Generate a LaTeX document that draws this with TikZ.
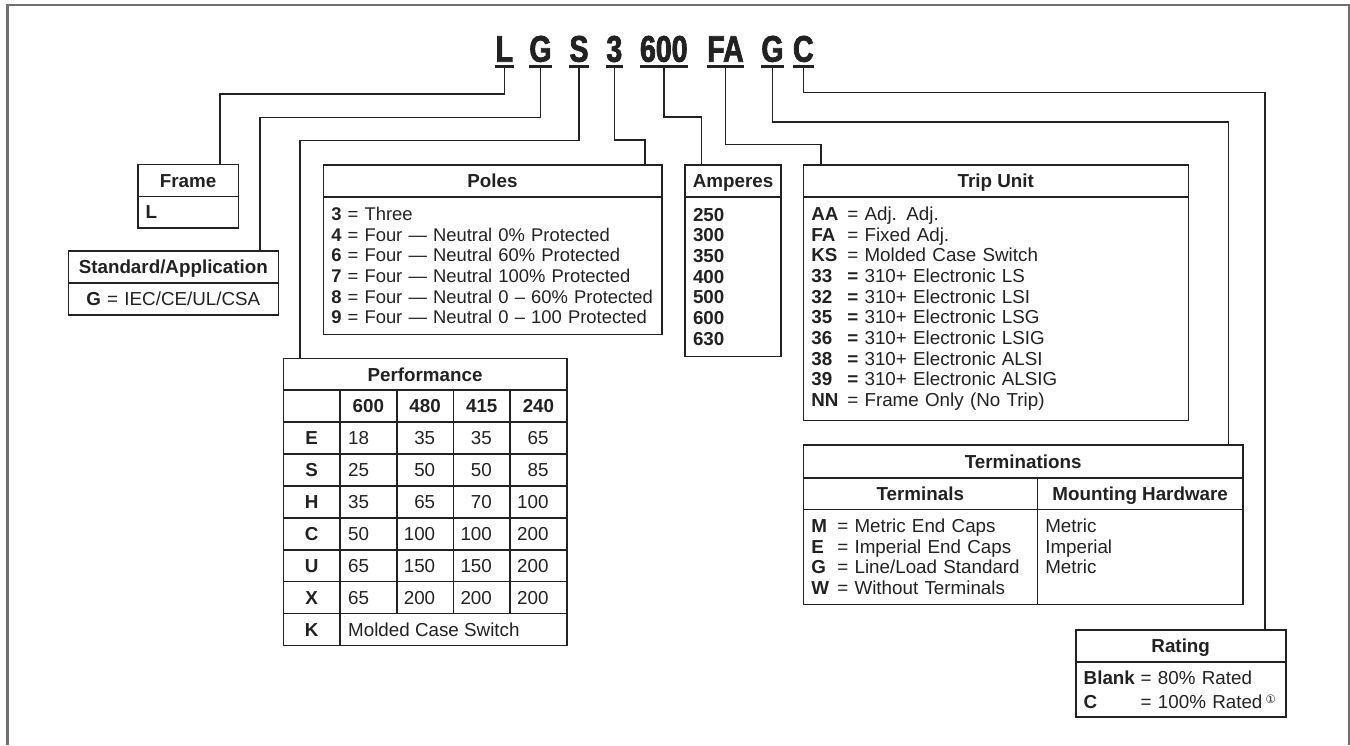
\documentclass[tikz,border=0pt]{standalone}
\usepackage{fontspec}
\setmainfont{Liberation Sans}
\newfontfamily\codefont[FakeStretch=0.77,FakeBold=2.2]{Liberation Sans Bold}
\newfontfamily\symfont{DejaVu Sans}
\usepackage{tikz}
\usetikzlibrary{positioning, calc}
\definecolor{inkcolor}{RGB}{34,34,34}
\definecolor{framecolor}{RGB}{112,112,112}
\newcommand{\tcode}[1]{\makebox[36pt][l]{\bfseries #1}}
\newcommand{\mcode}[1]{\makebox[26pt][l]{\bfseries #1}}
\newcommand{\rcode}[1]{\makebox[57pt][l]{\bfseries #1}}
\tikzset{
  codechar/.style={font=\codefont\fontsize{37}{37}\selectfont, inner xsep=0.5pt,
                   inner ysep=0pt, outer sep=0pt, text depth=5pt, anchor=base},
  codeline/.style={line width=2.8pt, draw=inkcolor},
  wire/.style={line width=1.5pt, draw=inkcolor},
  hdr/.style={draw=inkcolor, line width=1.6pt, minimum height=32pt, inner sep=0pt,
              outer sep=0pt, text height=13.5pt, text depth=0pt, font=\bfseries,
              anchor=north west},
  body/.style={draw=inkcolor, line width=1.6pt, inner xsep=8pt, inner ysep=0pt,
               outer sep=0pt, align=left, anchor=north,
               execute at begin node={\hyphenpenalty=10000\exhyphenpenalty=10000}},
  cell/.style={draw=inkcolor, line width=1.6pt, minimum width=56.7pt,
               minimum height=31.9pt, inner sep=0pt, outer sep=0pt,
               text height=13.5pt, text depth=0pt, anchor=north west},
  numl/.style={inner sep=0pt, text height=13.5pt, text depth=0pt, anchor=west},
  numr/.style={inner sep=0pt, text height=13.5pt, text depth=0pt, anchor=east},
}
\begin{document}
\fontsize{18.8}{20.7}\selectfont
\begin{tikzpicture}[x=1pt, y=-1pt, color=inkcolor]
  \useasboundingbox (0,0) rectangle (1350,745);
  % page frame
  \draw[framecolor, line width=2.5pt] (7.5,745) -- (7.5,5) -- (1349,5) -- (1349,745);

  % Catalog number
  \node[codechar] (cL)   at (504.3,61.7) {L};
  \node[codechar] (cG)   at (540.5,61.7) {G};
  \node[codechar] (cS)   at (579,61.7)   {S};
  \node[codechar] (c3)   at (614.3,61.7) {3};
  \node[codechar] (c600) at (663.8,61.7) {600};
  \node[codechar] (cFA)  at (725.5,61.7) {FA};
  \node[codechar] (cGt)  at (772.5,61.7) {G};
  \node[codechar] (cC)   at (803.3,61.7) {C};
  \foreach \n in {cL,cG,cS,c3,c600,cFA,cGt,cC}
    \draw[codeline] (\n.south west) -- (\n.south east);

  % Frame
  \node[hdr, minimum width=100.6pt] (frame) at (137.7,164.3) {Frame};
  \node[body, text width=84.6pt, minimum height=31.6pt] (frameB) at (frame.south)
    {\textbf{L}};

  % Standard/Application
  \node[hdr, minimum width=210pt] (std) at (68.3,251) {Standard/Application};
  \node[body, text width=194pt, minimum height=32pt, align=center] (stdB) at (std.south)
    {\textbf{G} = IEC/CE/UL/CSA};

  % Poles
  \node[hdr, minimum width=338.4pt] (poles) at (323.3,165) {Poles};
  \node[body, text width=322.4pt, minimum height=137.3pt,
        font=\fontsize{18.4}{20.7}\selectfont] (polesB) at (poles.south)
    {\mbox{\textbf{3} = Three}\\
     \mbox{\textbf{4} = Four — Neutral 0\% Protected}\\
     \mbox{\textbf{6} = Four — Neutral 60\% Protected}\\
     \mbox{\textbf{7} = Four — Neutral 100\% Protected}\\
     \mbox{\textbf{8} = Four — Neutral 0 – 60\% Protected}\\
     \mbox{\textbf{9} = Four — Neutral 0 – 100 Protected}};

  % Amperes
  \node[hdr, minimum width=96pt] (amps) at (685,165) {Amperes};
  \node[body, text width=80pt, minimum height=159.3pt, font=\bfseries] (ampsB) at (amps.south)
    {250\\300\\350\\400\\500\\600\\630};

  % Trip Unit
  \node[hdr, minimum width=385pt] (trip) at (803.3,165) {Trip Unit};
  \node[body, text width=369pt, minimum height=223.3pt] (tripB) at (trip.south)
    {\tcode{AA}= Adj. Adj.\\
     \tcode{FA}= Fixed Adj.\\
     \tcode{KS}= Molded Case Switch\\
     \tcode{33}\textbf{=} 310+ Electronic LS\\
     \tcode{32}\textbf{=} 310+ Electronic LSI\\
     \tcode{35}\textbf{=} 310+ Electronic LSG\\
     \tcode{36}\textbf{=} 310+ Electronic LSIG\\
     \tcode{38}\textbf{=} 310+ Electronic ALSI\\
     \tcode{39}\textbf{=} 310+ Electronic ALSIG\\
     \tcode{NN}= Frame Only (No Trip)};

  % Terminations
  \node[hdr, minimum width=439.7pt, minimum height=32.7pt] (term) at (803.3,445) {Terminations};
  \node[hdr, minimum width=234pt, minimum height=31.6pt] (termL) at (term.south west) {Terminals};
  \node[hdr, minimum width=205.7pt, minimum height=31.6pt] (termR) at (termL.north east)
    {Mounting Hardware};
  \node[body, text width=218pt, minimum height=95pt, anchor=north west] (termLB)
    at (termL.south west)
    {\mcode{M}= Metric End Caps\\
     \mcode{E}= Imperial End Caps\\
     \mcode{G}= Line/Load Standard\\
     \mcode{W}= Without Terminals};
  \node[body, text width=189.7pt, minimum height=95pt, anchor=north west] (termRB)
    at (termR.south west)
    {Metric\\Imperial\\Metric\\\mbox{}};

  % Rating
  \node[hdr, minimum width=210pt] (rating) at (1075.7,630) {Rating};
  \node[body, text width=194pt, minimum height=55pt, font=\fontsize{18.8}{24}\selectfont]
    (ratingB) at (rating.south)
    {\mbox{\rcode{Blank}= 80\% Rated}\\
     \mbox{\rcode{C}= 100\% Rated\,\raisebox{5pt}{\fontsize{11.5}{11.5}\selectfont\symfont ①}}};

  % Performance
  \node[hdr, minimum width=283.5pt, minimum height=31.9pt] (perf) at (283.3,358.3) {Performance};
  \node[cell] (ph0) at (perf.south west) {};
  \foreach \v [count=\i] in {600,480,415,240}
    \node[cell, font=\bfseries] (ph\i) at ($(perf.south west)+(\i*56.7,0)$) {\v};
  \foreach \r/\a/\b/\c/\d [count=\j] in {E/18/35/35/65, S/25/50/50/85, H/35/65/70/100,
      C/50/100/100/200, U/65/150/150/200, X/65/200/200/200} {
    \node[cell, font=\bfseries] (row\j) at ($(perf.south west)+(0,\j*31.9)$) {\r};
    \foreach \k in {1,...,4}
      \node[cell] (cell\j-\k) at ($(row\j.north west)+(\k*56.7,0)$) {};
    \node[numl] (val\j-1) at ([xshift=8pt]cell\j-1.west) {\a};
    \node[numr] (val\j-2) at ([xshift=-18pt]cell\j-2.east) {\b};
    \node[numr] (val\j-3) at ([xshift=-18pt]cell\j-3.east) {\c};
    \node[numr] (val\j-4) at ([xshift=-18pt]cell\j-4.east) {\d};
  }
  \node[cell, font=\bfseries] (rowK) at ($(perf.south west)+(0,7*31.9)$) {K};
  \node[cell, minimum width=226.8pt] (cellK) at (rowK.north east) {};
  \node[numl] (valK) at ([xshift=8pt]cellK.west) {Molded Case Switch};

  % Connectors
  \draw[wire] (cL.south)   -- ++(0,27.3) -| ([xshift=-18.3pt]frame.north east);
  \draw[wire] (cG.south)   -- ++(0,50.6) -| ([xshift=-18.3pt]std.north east);
  \draw[wire] (cS.south)   -- ++(0,74)   -| ([xshift=16.7pt]perf.north west);
  \draw[wire] (c3.south)   -- ++(0,73.5) -| ([xshift=-16.7pt]poles.north east);
  \draw[wire] (c600.south) -- ++(0,50.5) -| ([xshift=16.7pt]amps.north west);
  \draw[wire] (cFA.south)  -- ++(0,77.8) -| ([xshift=17.7pt]trip.north west);
  \draw[wire] (cGt.south)  -- ++(0,55.3) -| ([xshift=-14.7pt]term.north east);
  \draw[wire] (cC.south)   -- ++(0,25.8) -| ([xshift=-20.7pt]rating.north east);
\end{tikzpicture}
\end{document}
